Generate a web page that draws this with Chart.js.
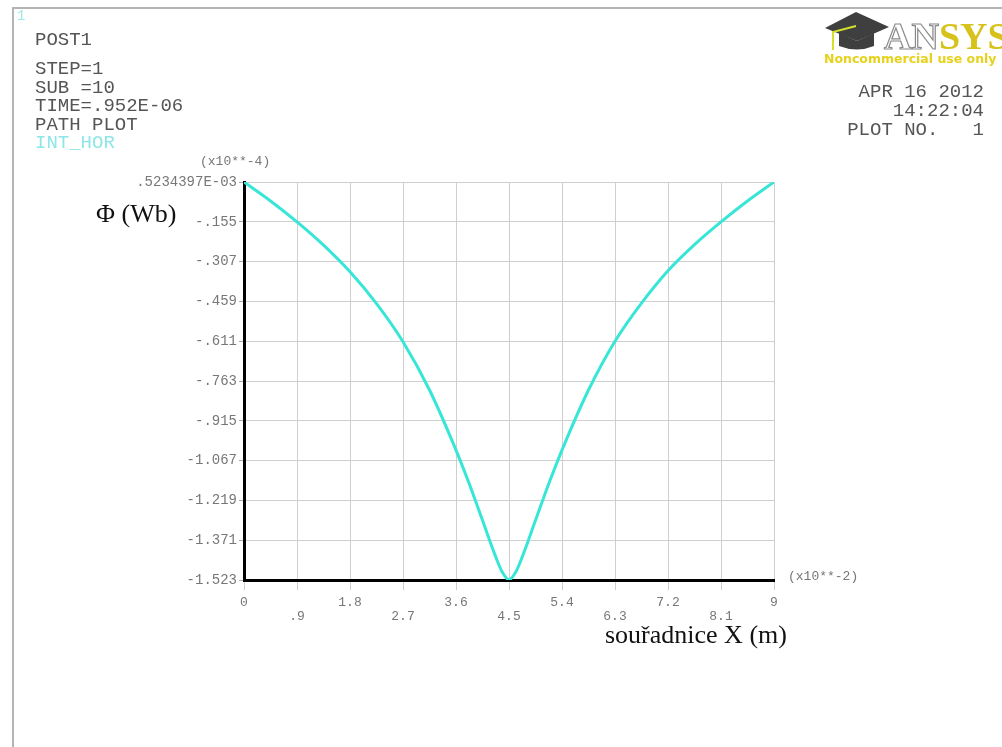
<!DOCTYPE html>
<html>
<head>
<meta charset="utf-8">
<script src="https://cdn.jsdelivr.net/npm/chart.js@4.4.1/dist/chart.umd.min.js"></script>
<style>
  html, body { margin: 0; padding: 0; background: #fff; }
  #wrap { width: 1002px; height: 747px; position: relative; }
</style>
</head>
<body>
<div id="wrap"><canvas id="c" width="1002" height="747"></canvas></div>
<script>
// path result: flux along the horizontal path (x10**-2 m, x10**-4 Wb)
const pathX = [0, 0.45, 0.9, 1.35, 1.8, 2.25, 2.7, 3.15, 3.6, 3.825, 4.05, 4.275, 4.39, 4.5,
  4.61, 4.725, 4.95, 5.175, 5.4, 5.85, 6.3, 6.75, 7.2, 7.65, 8.1, 8.55, 9];
const flux = [0.0005, -0.072, -0.152, -0.241, -0.343, -0.465, -0.611, -0.796, -1.026, -1.155, -1.295, -1.435, -1.495, -1.523,
  -1.495, -1.435, -1.295, -1.155, -1.026, -0.796, -0.609, -0.463, -0.339, -0.239, -0.152, -0.072, 0.0005];

const xTickLabels = ['0', '.9', '1.8', '2.7', '3.6', '4.5', '5.4', '6.3', '7.2', '8.1', '9'];
const yTickLabels = ['.5234397E-03', '-.155', '-.307', '-.459', '-.611', '-.763', '-.915',
  '-1.067', '-1.219', '-1.371', '-1.523'];
const yMin = -1.5235;
const yMax = 0.0005234;

const headerLines = ['STEP=1', 'SUB =10', 'TIME=.952E-06', 'PATH PLOT'];
const stampLines = ['APR 16 2012', '14:22:04', 'PLOT NO.   1'];

const MONO = '"Liberation Mono", "DejaVu Sans Mono", monospace';
const SERIF = '"Liberation Serif", "DejaVu Serif", serif';
const CYAN = '#38e6d8';

const decor = {
  id: 'ansysDecor',
  beforeDraw(chart) {
    const { ctx, width, height } = chart;
    ctx.save();
    ctx.fillStyle = '#ffffff';
    ctx.fillRect(0, 0, width, height);
    // window frame
    ctx.strokeStyle = '#b4b4b4';
    ctx.lineWidth = 2;
    ctx.beginPath();
    ctx.moveTo(13, height);
    ctx.lineTo(13, 8);
    ctx.lineTo(width, 8);
    ctx.stroke();
    ctx.restore();
  },
  afterDraw(chart) {
    const { ctx, chartArea } = chart;
    ctx.save();
    ctx.textBaseline = 'middle';

    // window number and header block
    ctx.font = '14px ' + MONO;
    ctx.fillStyle = '#9ee8e8';
    ctx.textAlign = 'left';
    ctx.fillText('1', 17, 16);

    ctx.font = '19px ' + MONO;
    ctx.fillStyle = '#555';
    ctx.fillText('POST1', 35, 40);
    headerLines.forEach((s, i) => ctx.fillText(s, 35, 69 + i * 18.5));
    ctx.fillStyle = '#8fe6e6';
    ctx.fillText('INT_HOR', 35, 143);

    ctx.textAlign = 'right';
    ctx.fillStyle = '#555';
    stampLines.forEach((s, i) => ctx.fillText(s, 984, 92 + i * 19));

    // axis multipliers
    ctx.font = '13px ' + MONO;
    ctx.fillStyle = '#777';
    ctx.textAlign = 'left';
    ctx.fillText('(x10**-4)', 200, 162);
    ctx.fillText('(x10**-2)', chartArea.right + 14, chartArea.bottom - 3);

    // axis titles
    ctx.font = '26px ' + SERIF;
    ctx.fillStyle = '#111';
    ctx.fillText('\u03A6 (Wb)', 96, 215);
    ctx.fillText('souřadnice X (m)', 605, 636);

    // logo: mortarboard
    ctx.fillStyle = '#3f3f3f';
    ctx.beginPath();
    ctx.moveTo(825, 28);
    ctx.lineTo(856, 12);
    ctx.lineTo(889, 27);
    ctx.lineTo(857, 41);
    ctx.closePath();
    ctx.fill();
    ctx.beginPath();
    ctx.moveTo(839, 33);
    ctx.lineTo(839, 46);
    ctx.quadraticCurveTo(857, 53, 874, 46);
    ctx.lineTo(874, 33);
    ctx.lineTo(857, 41);
    ctx.closePath();
    ctx.fill();
    ctx.strokeStyle = '#d4e02a';
    ctx.lineWidth = 2;
    ctx.beginPath();
    ctx.moveTo(856, 26);
    ctx.lineTo(833, 32);
    ctx.lineTo(833, 50);
    ctx.stroke();

    // logo: wordmark
    ctx.font = 'bold 38px ' + SERIF;
    ctx.textAlign = 'left';
    ctx.textBaseline = 'alphabetic';
    ctx.lineWidth = 1.2;
    ctx.strokeStyle = '#8a8a8a';
    ctx.strokeText('AN', 884, 49);
    const anW = ctx.measureText('AN').width;
    ctx.fillStyle = '#d6c21a';
    ctx.fillText('SYS', 884 + anW, 49);
    ctx.font = 'bold 12.5px "DejaVu Sans", sans-serif';
    ctx.fillStyle = '#e6d21a';
    ctx.fillText('Noncommercial use only', 824, 63);
    ctx.restore();
  }
};

new Chart(document.getElementById('c'), {
  type: 'line',
  data: {
    datasets: [{
      data: pathX.map((x, i) => ({ x, y: flux[i] })),
      borderColor: CYAN,
      borderWidth: 3,
      pointRadius: 0,
      cubicInterpolationMode: 'monotone',
      fill: false
    }]
  },
  options: {
    responsive: false,
    animation: false,
    events: [],
    layout: { padding: { left: 0, right: 228, top: 182, bottom: 0 } },
    plugins: { legend: { display: false }, tooltip: { enabled: false } },
    scales: {
      x: {
        type: 'linear',
        min: 0,
        max: 9,
        afterBuildTicks(scale) {
          scale.ticks = xTickLabels.map((_, i) => ({ value: i * 0.9 }));
        },
        afterFit(scale) { scale.height = 167; },
        ticks: {
          maxRotation: 0,
          autoSkip: false,
          padding: 5,
          color: '#777',
          font: { family: MONO, size: 13, lineHeight: 1.1 },
          callback: (v, i) => (i % 2 ? ['', xTickLabels[i]] : xTickLabels[i])
        },
        grid: { color: '#cfcfcf', lineWidth: 1, tickLength: 10, tickColor: '#cfcfcf' },
        border: { color: '#000', width: 3 }
      },
      y: {
        type: 'linear',
        min: yMin,
        max: yMax,
        afterBuildTicks(scale) {
          const n = yTickLabels.length - 1;
          scale.ticks = yTickLabels.map((_, i) => ({ value: yMin + (yMax - yMin) * i / n }));
        },
        afterFit(scale) { scale.width = 244; },
        ticks: {
          autoSkip: false,
          padding: 2,
          color: '#777',
          font: { family: MONO, size: 14 },
          callback: (v, i) => yTickLabels[yTickLabels.length - 1 - i]
        },
        grid: { color: '#cfcfcf', lineWidth: 1, tickLength: 5, tickColor: '#aaa' },
        border: { color: '#000', width: 3 }
      }
    }
  },
  plugins: [decor]
});
</script>
</body>
</html>
